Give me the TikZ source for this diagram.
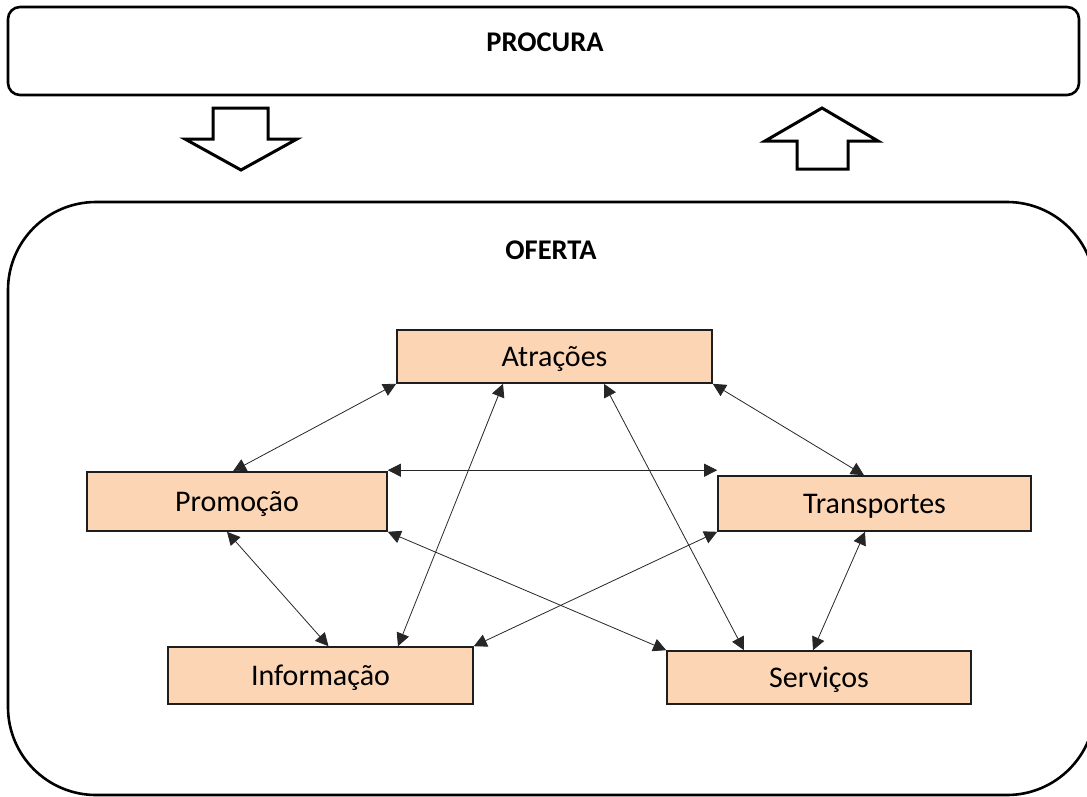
\documentclass[tikz,border=0pt]{standalone}
\usepackage{fontspec}
\setmainfont{Carlito}
\usetikzlibrary{arrows.meta}
\definecolor{peach}{RGB}{252,213,180}
\definecolor{edge}{RGB}{30,30,30}
\tikzset{
  item/.style={draw=edge, line width=1.6pt, fill=peach, rectangle, inner sep=0pt,
    text height=20pt, text depth=0pt, font=\fontsize{30}{34}\selectfont},
  title/.style={text height=18pt, text depth=0pt, font=\bfseries\fontsize{28.5}{32}\selectfont},
  link/.style={line width=0.8pt, draw=black!85,
    {Triangle[length=13pt,width=13pt]}-{Triangle[length=13pt,width=13pt]}},
  blockarrow/.style={draw=black, line width=3pt, line join=miter, fill=white}
}
\begin{document}
\begin{tikzpicture}[x=1pt, y=-1pt]
\useasboundingbox (0,0) rectangle (1087,796);
\begin{scope}
\clip (0,0) rectangle (1087,796);
% outer frames
\draw[line width=2.6pt, rounded corners=12pt] (8,7) rectangle (1079,95);
\node[title] (procura) at (545,42) {PROCURA};
\draw[line width=2.6pt, rounded corners=88pt] (8,202) rectangle (1095,795);
\node[title] (oferta) at (551,250) {OFERTA};

% flow arrows between demand and supply
\draw[blockarrow] (213,108) -- (268,108) -- (268,139) -- (297,139) -- (241,170)
  -- (185,139) -- (213,139) -- cycle;
\draw[blockarrow] (797,169) -- (848,169) -- (848,141) -- (878,141) -- (822,108)
  -- (765,141) -- (797,141) -- cycle;
\end{scope}

% components of the offer
\node[item, minimum width=315pt, minimum height=53pt] (atr) at (554.5,356.5) {Atrações};
\node[item, minimum width=300pt, minimum height=59pt] (pro) at (237,501.5) {Promoção};
\node[item, minimum width=313pt, minimum height=55pt] (tra) at (874.5,503.5) {Transportes};
\node[item, minimum width=305pt, minimum height=57pt] (inf) at (320.5,675.5) {Informação};
\node[item, minimum width=304pt, minimum height=53pt] (ser) at (819,677.5) {Serviços};

% relations
\draw[link] (atr.south west) -- ([xshift=-4pt]pro.north);
\draw[link] ([xshift=-51.5pt]atr.south) -- ([xshift=77.5pt]inf.north);
\draw[link] ([xshift=49.5pt]atr.south) -- ([xshift=-75pt]ser.north);
\draw[link] (atr.south east) -- ([xshift=-10.5pt]tra.north);
\draw[link] ([yshift=1pt]pro.north east) -- ([yshift=1pt]pro.north east -| tra.west);
\draw[link] (pro.south east) -- (ser.north west);
\draw[link] ([xshift=-10pt]pro.south) -- ([xshift=8pt]inf.north);
\draw[link] (tra.south west) -- (inf.north east);
\draw[link] ([xshift=-9.5pt]tra.south) -- ([xshift=-6pt]ser.north);
\end{tikzpicture}
\end{document}
